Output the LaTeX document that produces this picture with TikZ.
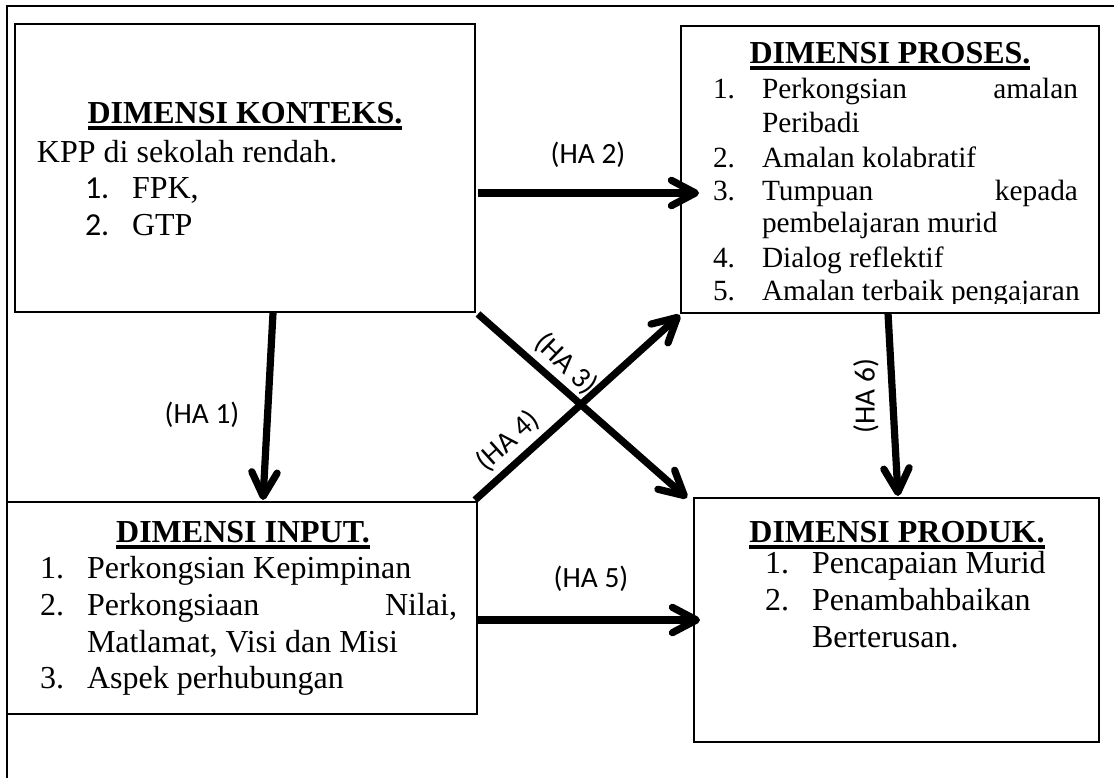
\documentclass[tikz,border=0pt]{standalone}
\usepackage{fontspec}
\setmainfont{Liberation Serif}
\newfontfamily\calfont{Carlito}
\usetikzlibrary{arrows.meta,calc}
\newcommand\ulbf[1]{\setbox0\hbox{\bfseries #1}\rlap{\rule[-2.6pt]{\wd0}{1.4pt}}\box0}
\tikzset{
  frame/.style={line width=0.7pt},
  boxthin/.style={draw, line width=0.5pt, inner sep=0pt, outer sep=0pt},
  boxthick/.style={draw, line width=1.1pt, inner sep=0pt, outer sep=0pt},
  txt/.style={inner sep=0pt, outer sep=0pt, anchor=base west, font=\fontsize{12}{14}\selectfont},
  txts/.style={inner sep=0pt, outer sep=0pt, anchor=base west, font=\fontsize{11}{13}\selectfont},
  ttl/.style={inner sep=0pt, outer sep=0pt, anchor=base, font=\fontsize{12}{14}\selectfont},
  lbl/.style={inner sep=0pt, outer sep=0pt, font=\calfont\fontsize{11}{13}\selectfont},
  arr/.style={line width=2.7pt, -{Straight Barb[length=9pt,width=9.5pt,round]}}
}
\begin{document}
\begin{tikzpicture}[x=0.375pt,y=-0.375pt]
\useasboundingbox (0,0) rectangle (1114,778);
% outer frame
\draw[frame] (7,778) -- (7,6) -- (1114,6);
% boxes
\node[boxthick, minimum width=460*0.375pt, minimum height=288*0.375pt] (konteks) at (245,168) {};
\node[boxthin, minimum width=418*0.375pt, minimum height=287*0.375pt] (proses) at (890,169.5) {};
\node[boxthin, minimum width=470*0.375pt, minimum height=212*0.375pt] (input) at (242,608) {};
\node[boxthin, minimum width=405*0.375pt, minimum height=244*0.375pt] (produk) at (896.5,620) {};
% konteks text
\node[ttl] (kt) at (245,123) {\ulbf{DIMENSI KONTEKS.}};
\node[txt] (k0) at (37,162) {KPP di sekolah rendah.};
\node[txt, font=\calfont\fontsize{12}{14}\selectfont] (k1n) at (85,198) {1.};
\node[txt] (k1) at (132,198) {FPK,};
\node[txt, font=\calfont\fontsize{12}{14}\selectfont] (k2n) at (85,235) {2.};
\node[txt] (k2) at (132,235) {GTP};
% proses text
\node[ttl] (pt) at (890,63) {\ulbf{DIMENSI PROSES.}};
\node[txts] (p1n) at (713,98) {1.};
\node[txts] (p1) at (762,98) {\makebox[118.5pt][l]{Perkongsian\hfill amalan}};
\node[txts] (p1b) at (762,132) {Peribadi};
\node[txts] (p2n) at (713,167) {2.};
\node[txts] (p2) at (762,167) {Amalan kolabratif};
\node[txts] (p3n) at (713,200) {3.};
\node[txts] (p3) at (762,200) {\makebox[118.5pt][l]{Tumpuan\hfill kepada}};
\node[txts] (p3b) at (762,232) {pembelajaran murid};
\node[txts] (p4n) at (713,267) {4.};
\node[txts] (p4) at (762,267) {Dialog reflektif};
\begin{scope}
\clip (681,26) rectangle (1099,303.5);
\node[txts] (p5n) at (713,300) {5.};
\node[txts] (p5) at (762,300) {Amalan terbaik pengajaran};
\end{scope}
% input text
\node[ttl] (it) at (243,542) {\ulbf{DIMENSI INPUT.}};
\node[txt] (i1n) at (40,578) {1.};
\node[txt] (i1) at (87,578) {Perkongsian Kepimpinan};
\node[txt] (i2n) at (40,615) {2.};
\node[txt] (i2) at (87,615) {\makebox[138.75pt][l]{Perkongsiaan\hfill Nilai,}};
\node[txt] (i2b) at (87,652) {Matlamat, Visi dan Misi};
\node[txt] (i3n) at (40,688) {3.};
\node[txt] (i3) at (87,688) {Aspek perhubungan};
% produk text
\node[ttl] (rt) at (897,542) {\ulbf{DIMENSI PRODUK.}};
\node[txt] (r1n) at (765,573) {1.};
\node[txt] (r1) at (812,573) {Pencapaian Murid};
\node[txt] (r2n) at (765,610) {2.};
\node[txt] (r2) at (812,610) {Penambahbaikan};
\node[txt] (r2b) at (812,647) {Berterusan.};
% arrows
\draw[arr] ($(konteks.south)+(28,1)$) -- ($(input.north)+(21,-2)$);
\draw[arr] ($(konteks.east)+(3,25)$) -- ($(proses.west)+(18,23.5)$);
\draw[arr] ($(konteks.south east)+(3,2)$) -- ($(produk.north west)+(-7,0)$);
\draw[arr] ($(input.north east)+(-2,-2)$) -- ($(proses.south west)+(-1,2)$);
\draw[arr] ($(input.east)+(1,12)$) -- ($(produk.west)+(6,0)$);
\draw[arr] ($(proses.south)+(-2,0)$) -- ($(produk.north)+(1.5,-2)$);
% labels
\node[lbl, anchor=base] (l1) at (202,423) {(HA 1)};
\node[lbl, anchor=base] (l2) at (588,163) {(HA 2)};
\node[lbl, rotate=-44] (l3) at (566,364) {(HA 3)};
\node[lbl, rotate=42] (l4) at (508,441) {(HA 4)};
\node[lbl, anchor=base] (l5) at (591,587) {(HA 5)};
\node[lbl, rotate=90] (l6) at (866,396) {(HA 6)};
\end{tikzpicture}
\end{document}
